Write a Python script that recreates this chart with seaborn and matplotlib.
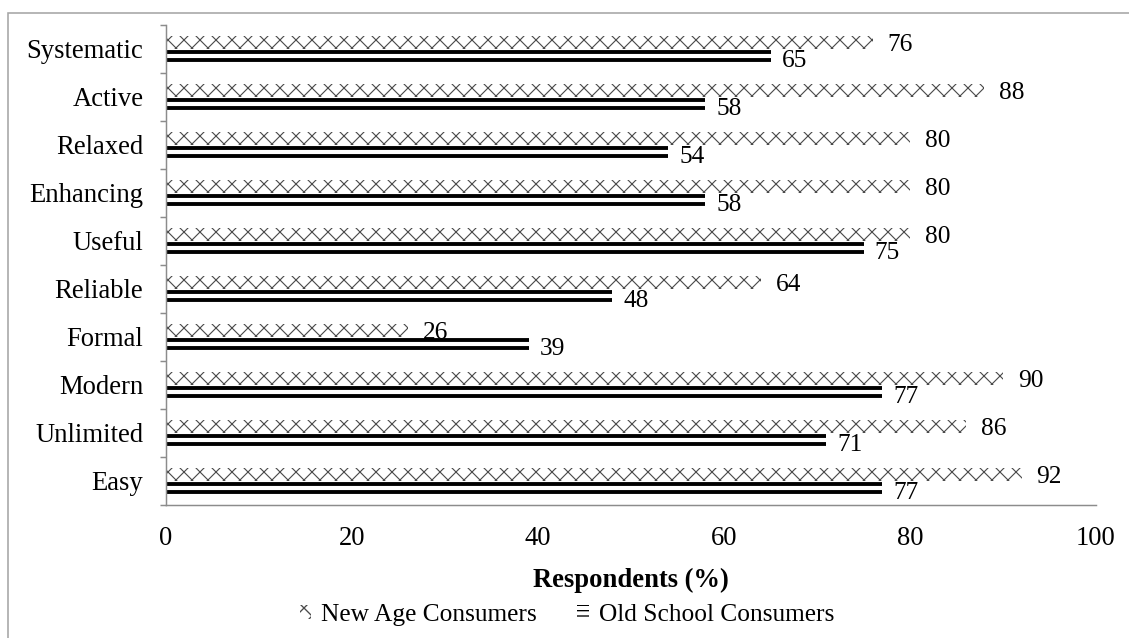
import matplotlib
matplotlib.use("Agg")
import matplotlib.pyplot as plt
from matplotlib.patches import Patch, Rectangle
from matplotlib.ticker import FixedLocator
import seaborn as sns
import pandas as pd
import numpy as np

# Survey data: share of respondents describing the product with each attribute
categories = ["Systematic", "Active", "Relaxed", "Enhancing", "Useful",
              "Reliable", "Formal", "Modern", "Unlimited", "Easy"]
new_age = [76, 88, 80, 80, 80, 64, 26, 90, 86, 92]
old_school = [65, 58, 54, 58, 75, 48, 39, 77, 71, 77]
series = ["New Age Consumers", "Old School Consumers"]
x_ticks = [0, 20, 40, 60, 80, 100]

sns.set_theme(style="white")
plt.rcParams["font.family"] = ["Liberation Serif", "DejaVu Serif"]
plt.rcParams["text.color"] = "black"

DPI = 96
W, H = 1129, 638
fig = plt.figure(figsize=(W / DPI, H / DPI), dpi=DPI)
fig.patch.set_facecolor("white")
ax = fig.add_axes([166 / W, 133 / H, 930 / W, 480 / H])

df = pd.DataFrame({
    "Attribute": categories * 2,
    "Respondents": new_age + old_school,
    "Group": [series[0]] * len(categories) + [series[1]] * len(categories),
})

sns.barplot(data=df, y="Attribute", x="Respondents", hue="Group",
            hue_order=series, order=categories, orient="h",
            width=0.54, gap=0, palette=["white", "white"],
            errorbar=None, legend=False, ax=ax)

# pattern fills: diamond cross-hatch for new age, double rule for old school
styles = [
    dict(hatch="xx", edgecolor="#4a4a4a", hlw=0.85),
    dict(hatch="--", edgecolor="black", hlw=2.9),
]
for cont, st in zip(ax.containers, styles):
    for bar in cont:
        bar.set_facecolor("white")
        bar.set_edgecolor(st["edgecolor"])
        bar.set_linewidth(0)
        bar.set_hatch(st["hatch"])
        if hasattr(bar, "set_hatch_linewidth"):
            bar.set_hatch_linewidth(st["hlw"])

# value labels
px = 72 / DPI
for cont, vals, (dx, dy) in zip(ax.containers, [new_age, old_school],
                                [(15, -2.5), (11, -6)]):
    for bar, v in zip(cont, vals):
        ax.annotate(f"{v}", xy=(bar.get_width(), bar.get_y() + bar.get_height() / 2),
                    xytext=(dx * px, dy * px), textcoords="offset points",
                    ha="left", va="center", fontsize=19, color="black",
                    annotation_clip=False)

# axes styling
axis_grey = "#8c8c8c"
ax.set_xlim(0, 100)
ax.set_ylim(len(categories) - 0.5, -0.5)
ax.set_xticks(x_ticks)
ax.set_xticklabels([str(t) for t in x_ticks])
for side in ["top", "right"]:
    ax.spines[side].set_visible(False)
for side in ["left", "bottom"]:
    ax.spines[side].set_color(axis_grey)
    ax.spines[side].set_linewidth(1.1)

ax.tick_params(axis="x", which="major", direction="out", length=6 * px,
               width=1.1, color=axis_grey, labelsize=20, pad=11.5, labelcolor="black")
ax.tick_params(axis="y", which="major", length=0, labelsize=20, pad=17,
               labelcolor="black")
ax.yaxis.set_minor_locator(FixedLocator(np.arange(-0.5, len(categories), 1.0)))
ax.tick_params(axis="y", which="minor", direction="out", length=6 * px,
               width=1.1, color=axis_grey, left=True)
ax.grid(False)

ax.set_ylabel("")
ax.set_xlabel("Respondents (%)", fontsize=20, fontweight="bold", color="black")
ax.xaxis.set_label_coords(0.5, -0.13)

# legend
handles = [
    Patch(facecolor="white", edgecolor=styles[0]["edgecolor"], hatch="xx", linewidth=0),
    Patch(facecolor="white", edgecolor="black", hatch="---", linewidth=0),
]
for h, lw in zip(handles, [0.85, 1.6]):
    if hasattr(h, "set_hatch_linewidth"):
        h.set_hatch_linewidth(lw)
leg = fig.legend(handles, series, loc="center", ncol=2,
                 bbox_to_anchor=(567 / W, 1 - 615 / H), frameon=False,
                 fontsize=19, handlelength=0.45, handleheight=0.5,
                 handletextpad=0.4, columnspacing=1.6)

# outer frame
fig.add_artist(Rectangle((8 / W, -0.1), 1.2, (1 - 13 / H) + 0.1,
                         transform=fig.transFigure, fill=False,
                         edgecolor="#a6a6a6", linewidth=1.2, clip_on=False))

fig.savefig("out.png", dpi=DPI, facecolor="white")
